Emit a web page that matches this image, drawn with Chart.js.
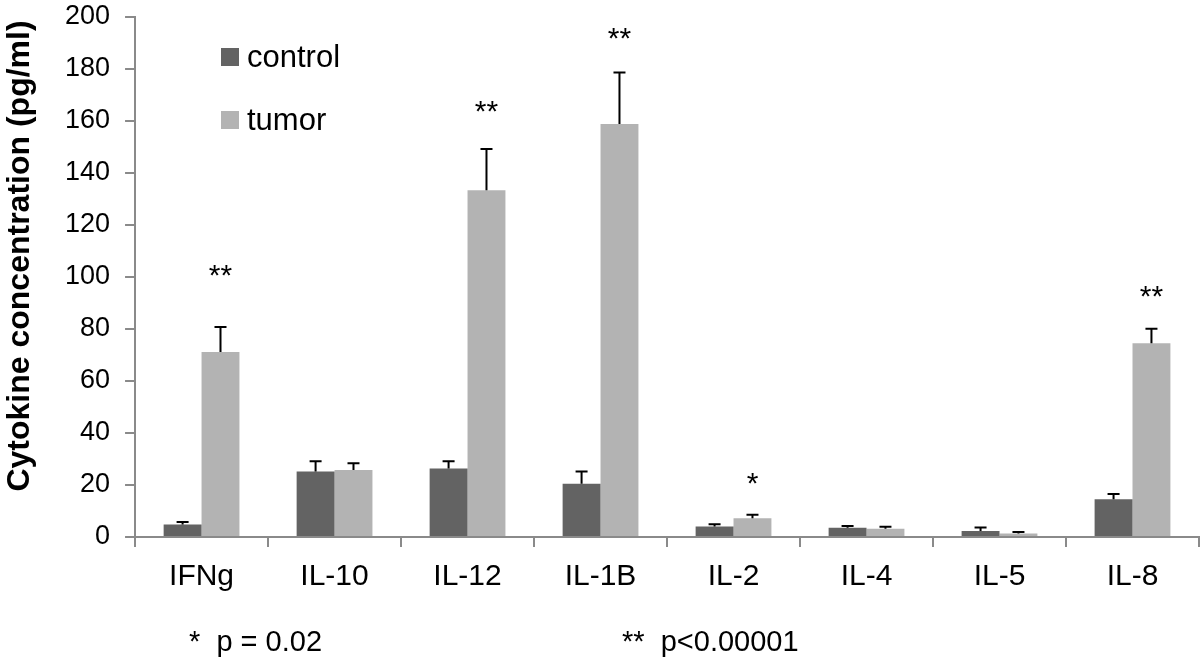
<!DOCTYPE html>
<html>
<head>
<meta charset="utf-8">
<script src="https://cdn.jsdelivr.net/npm/chart.js@4.4.1/dist/chart.umd.min.js"></script>
<style>
    body { margin: 0; background: #fff; }
    canvas { display: block; }
</style>
</head>
<body>
<canvas id="myChart" width="1200" height="663"></canvas>
<script>
// values
const categories = ['IFNg', 'IL-10', 'IL-12', 'IL-1B', 'IL-2', 'IL-4', 'IL-5', 'IL-8'];
const controlValues = [4.8, 25.2, 26.3, 20.5, 4.0, 3.6, 2.3, 14.5];
const controlErrors = [1.0, 3.9, 2.8, 4.7, 0.9, 0.6, 1.4, 2.0];
const tumorValues = [71.2, 25.8, 133.4, 158.8, 7.2, 3.2, 1.3, 74.5];
const tumorErrors = [9.6, 2.6, 15.8, 19.9, 1.4, 0.7, 0.6, 5.6];
const starLabels = ['**', '', '**', '**', '*', '', '', '**'];
const starLevels = [102, null, 165, 193, 22, null, null, 94];
const yMin = 0;
const yMax = 200;
const yStep = 20;
const yTitle = 'Cytokine concentration (pg/ml)';
const footnotes = ['*  p = 0.02', '**  p<0.00001'];

const FONT = '"Liberation Sans", Arial, Helvetica, sans-serif';
const AXIS_GREY = '#8a8a8a';

const overlay = {
    id: 'overlay',
    afterDatasetsDraw(chart) {
        const ctx = chart.ctx;
        const y = chart.scales.y;
        const errors = [controlErrors, tumorErrors];

        // error bars, upward only
        ctx.save();
        ctx.strokeStyle = '#000';
        ctx.lineWidth = 2;
        chart.data.datasets.forEach((ds, i) => {
            chart.getDatasetMeta(i).data.forEach((bar, j) => {
                const top = y.getPixelForValue(ds.data[j] + errors[i][j]);
                ctx.beginPath();
                ctx.moveTo(bar.x, bar.y);
                ctx.lineTo(bar.x, top);
                ctx.moveTo(bar.x - 6, top);
                ctx.lineTo(bar.x + 6, top);
                ctx.stroke();
            });
        });

        // significance stars over the tumor bars
        ctx.fillStyle = '#000';
        ctx.font = '30px ' + FONT;
        ctx.textAlign = 'center';
        ctx.textBaseline = 'alphabetic';
        const tumorMeta = chart.getDatasetMeta(1);
        starLabels.forEach((s, j) => {
            if (!s) return;
            const py = y.getPixelForValue(starLevels[j]);
            ctx.fillText(s, tumorMeta.data[j].x, py + 13);
        });
        ctx.restore();
    },
    afterDraw(chart) {
        const ctx = chart.ctx;
        ctx.save();
        ctx.fillStyle = '#000';

        // legend
        ctx.textAlign = 'left';
        ctx.textBaseline = 'middle';
        ctx.font = '31px ' + FONT;
        chart.data.datasets.forEach((ds, i) => {
            const cy = 57 + i * 63;
            ctx.fillStyle = ds.backgroundColor;
            ctx.fillRect(221, cy - 9, 18, 18);
            ctx.fillStyle = '#000';
            ctx.fillText(ds.label, 247, cy + 1);
        });

        // y axis title
        ctx.save();
        ctx.translate(29, 256);
        ctx.rotate(-Math.PI / 2);
        ctx.textAlign = 'center';
        ctx.textBaseline = 'alphabetic';
        ctx.font = 'bold 32px ' + FONT;
        ctx.fillText(yTitle, 0, 0);
        ctx.restore();

        // footnotes
        ctx.font = '29px ' + FONT;
        ctx.textBaseline = 'alphabetic';
        ctx.fillText(footnotes[0], 189, 651);
        ctx.fillText(footnotes[1], 622, 651);
        ctx.restore();
    }
};

new Chart(document.getElementById('myChart'), {
    type: 'bar',
    data: {
        labels: categories,
        datasets: [{
            label: 'control',
            data: controlValues,
            backgroundColor: '#636363',
            categoryPercentage: 0.57,
            barPercentage: 1.0,
        }, {
            label: 'tumor',
            data: tumorValues,
            backgroundColor: '#b3b3b3',
            categoryPercentage: 0.57,
            barPercentage: 1.0,
        }]
    },
    options: {
        responsive: false,
        devicePixelRatio: 1,
        animation: false,
        layout: {
            padding: { left: 50, right: 1, top: 17, bottom: 56 }
        },
        plugins: {
            legend: { display: false },
            tooltip: { enabled: false },
        },
        scales: {
            x: {
                offset: true,
                grid: {
                    display: true,
                    offset: true,
                    drawOnChartArea: false,
                    tickLength: 10,
                    color: AXIS_GREY,
                    lineWidth: 2,
                },
                border: { color: AXIS_GREY, width: 2 },
                ticks: {
                    color: '#000',
                    padding: 12,
                    font: { family: FONT, size: 30 },
                    maxRotation: 0,
                },
            },
            y: {
                min: yMin,
                max: yMax,
                afterFit(scale) {
                    // tick padding should not push the plot area down
                    scale.paddingTop = 0;
                    scale.paddingBottom = 0;
                },
                grid: {
                    drawOnChartArea: false,
                    tickLength: 10,
                    color: AXIS_GREY,
                    lineWidth: 2,
                },
                border: { color: AXIS_GREY, width: 2 },
                ticks: {
                    stepSize: yStep,
                    color: '#000',
                    padding: 15,
                    font: { family: FONT, size: 27 },
                },
            }
        }
    },
    plugins: [overlay]
});
</script>
</body>
</html>
